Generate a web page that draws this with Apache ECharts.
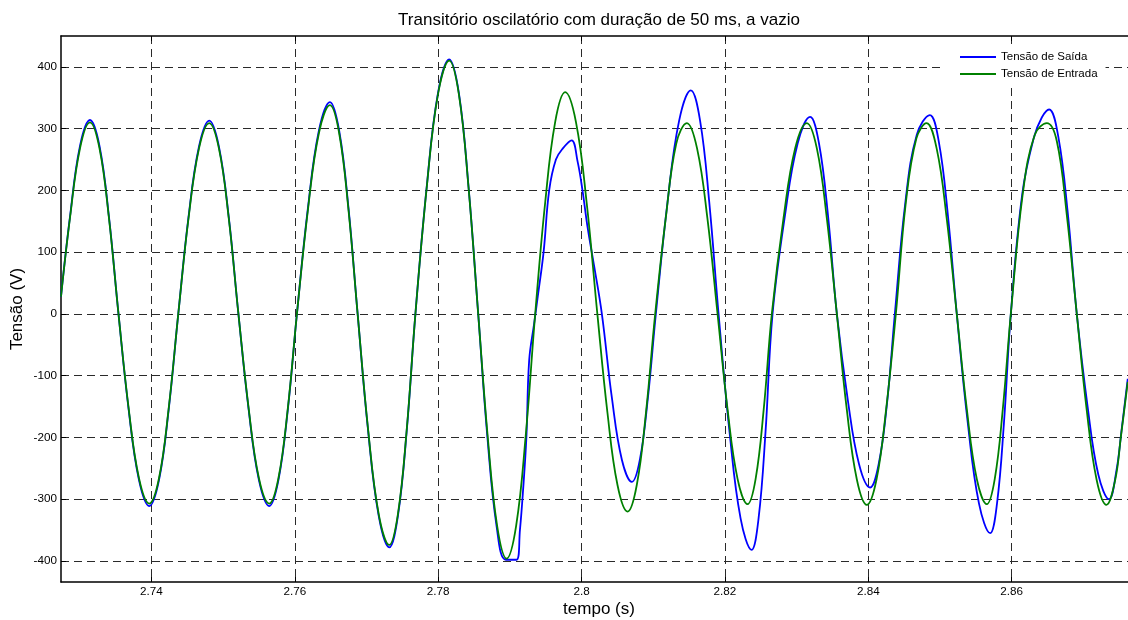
<!DOCTYPE html>
<html>
<head>
<meta charset="utf-8">
<script src="https://cdn.jsdelivr.net/npm/echarts@6/dist/echarts.min.js"></script>
<style>
html,body{margin:0;padding:0;background:#ffffff;}
#chart{width:1128px;height:620px;}
</style>
</head>
<body>
<div id="chart"></div>
<script>
const titleText = 'Transitório oscilatório com duração de 50 ms, a vazio';
const xName = 'tempo (s)';
const yName = 'Tensão (V)';
const seriesNames = ['Tensão de Saída', 'Tensão de Entrada'];
const xTicks = [2.74, 2.76, 2.78, 2.8, 2.82, 2.84, 2.86];
const yTicks = [-400, -300, -200, -100, 0, 100, 200, 300, 400];
const xRange = [2.72738, 2.87748];
const yRange = [-434, 450];

const timeSaida = [
2.72738,2.72863,2.73003,2.73142,2.73275,2.73407,2.73540,2.73683,2.73826,2.73969,
2.74105,2.74239,2.74374,2.74517,2.74663,2.74806,2.74941,2.75078,2.75213,2.75357,
2.75499,2.75643,2.75771,2.75901,2.76029,2.76183,2.76336,2.76490,2.76618,2.76748,
2.76876,2.77022,2.77170,2.77317,2.77438,2.77561,2.77682,2.77840,2.77996,2.78153,
2.78289,2.78423,2.78558,2.78686,2.78816,2.78944,2.79093,2.79140,2.79181,2.79230,
2.79269,2.79339,2.79391,2.79470,2.79548,2.79642,2.79739,2.79861,2.79944,2.80014,
2.80084,2.80176,2.80283,2.80423,2.80562,2.80702,2.80813,2.80925,2.81036,2.81199,
2.81361,2.81524,2.81653,2.81781,2.81911,2.82064,2.82218,2.82371,2.82469,2.82566,
2.82664,2.82838,2.83014,2.83188,2.83312,2.83437,2.83561,2.83716,2.83870,2.84025,
2.84145,2.84264,2.84370,2.84516,2.84676,2.84858,2.84983,2.85109,2.85234,2.85389,
2.85544,2.85699,2.85795,2.85891,2.85988,2.86148,2.86308,2.86420,2.86522,2.86650,
2.86780,2.86908,2.87059,2.87208,2.87358,2.87459,2.87536,2.87619
];
const tensaoSaida = [
28,157,272,314,272,157,0,-156,-269,-311,
-269,-156,0,157,271,313,271,157,0,-156,
-269,-311,-269,-156,0,172,297,343,297,172,
0,-189,-327,-378,-327,-189,0,206,357,412,
357,206,0,-199,-345,-398,-398,-350,-290,-200,
-75,-15,30,100,200,250,268,281,247,199,
140,77,0,-136,-236,-272,-236,-136,0,181,
313,362,313,181,0,-191,-331,-382,-331,-191,
0,160,276,319,276,160,0,-141,-243,-281,
-243,-141,0,180,290,322,279,161,0,-178,
-307,-355,-307,-178,0,195,285,318,331,287,
166,0,-150,-260,-300,-255,-185,-105
];
const timeEntrada = [
2.72738,2.72863,2.73003,2.73142,2.73275,2.73407,2.73540,2.73683,2.73826,2.73969,
2.74105,2.74239,2.74374,2.74517,2.74663,2.74806,2.74941,2.75078,2.75213,2.75357,
2.75499,2.75643,2.75771,2.75901,2.76029,2.76183,2.76336,2.76490,2.76618,2.76748,
2.76876,2.77022,2.77170,2.77317,2.77438,2.77561,2.77682,2.77840,2.77996,2.78153,
2.78289,2.78423,2.78558,2.78690,2.78822,2.78954,2.79087,2.79220,2.79353,2.79492,
2.79632,2.79771,2.79921,2.80071,2.80220,2.80361,2.80501,2.80642,2.80770,2.80898,
2.81027,2.81174,2.81321,2.81469,2.81611,2.81755,2.81897,2.82036,2.82176,2.82315,
2.82428,2.82541,2.82654,2.82817,2.82979,2.83142,2.83282,2.83421,2.83561,2.83700,
2.83840,2.83979,2.84114,2.84248,2.84384,2.84523,2.84670,2.84812,2.84953,2.85093,
2.85234,2.85374,2.85513,2.85653,2.85764,2.85876,2.85988,2.86155,2.86322,2.86490,
2.86629,2.86769,2.86908,2.87046,2.87184,2.87322,2.87445,2.87522,2.87619
];
const tensaoEntrada = [
28,155,268,310,268,155,0,-154,-266,-307,
-266,-154,0,155,268,309,268,155,0,-154,
-266,-307,-266,-154,0,169,293,338,293,169,
0,-187,-324,-374,-324,-187,0,205,355,410,
355,205,0,-198,-343,-396,-343,-198,0,180,
311,359,311,180,0,-160,-277,-320,-277,-160,
0,155,276,309,268,155,0,-154,-267,-308,
-267,-154,0,155,268,309,268,155,0,-155,
-268,-309,-268,-155,0,180,284,309,268,155,
0,-154,-267,-308,-267,-154,0,195,290,309,
280,160,0,-155,-268,-309,-268,-200,-110
];

const FONT = "'Liberation Sans', Arial, sans-serif";
const pairs = (ts, vs) => ts.map((t, i) => [t, vs[i]]);
const gridDash = { type: [8, 5], color: '#2a2a2a', width: 1 };

const chart = echarts.init(document.getElementById('chart'), null, { renderer: 'canvas' });
chart.setOption({
  animation: false,
  backgroundColor: '#ffffff',
  textStyle: { fontFamily: FONT },
  title: {
    text: titleText,
    left: 594,
    top: 7,
    textAlign: 'center',
    textStyle: { fontFamily: FONT, fontSize: 17, fontWeight: 'normal', color: '#000' }
  },
  legend: {
    orient: 'vertical',
    left: 945,
    top: 45,
    padding: [6, 8, 6, 15],
    itemWidth: 36,
    itemHeight: 2,
    itemGap: 5,
    icon: 'rect',
    backgroundColor: '#ffffff',
    borderWidth: 0,
    textStyle: { fontFamily: FONT, fontSize: 11.5, color: '#000' },
    data: seriesNames
  },
  grid: {
    left: 61, right: -9, top: 36, bottom: 38,
    containLabel: false,
    outerBoundsMode: 'none'
  },
  xAxis: [{
    type: 'value',
    position: 'bottom',
    min: xRange[0], max: xRange[1],
    name: xName,
    nameLocation: 'middle',
    nameGap: 19,
    nameMoveOverlap: false,
    nameTextStyle: { fontFamily: FONT, fontSize: 17, color: '#000' },
    axisLine: { show: true, onZero: false, lineStyle: { color: '#000', width: 1.5 } },
    axisTick: { show: true, inside: true, length: 5, customValues: xTicks, lineStyle: { color: '#000' } },
    axisLabel: { show: true, customValues: xTicks, margin: 4, fontFamily: FONT, fontSize: 11.7, color: '#000' },
    splitLine: { show: true, lineStyle: gridDash }
  }, {
    type: 'value',
    position: 'top',
    min: xRange[0], max: xRange[1],
    axisLine: { show: true, onZero: false, lineStyle: { color: '#000', width: 1.5 } },
    axisTick: { show: true, inside: true, length: 5, customValues: xTicks, lineStyle: { color: '#000' } },
    axisLabel: { show: false },
    splitLine: { show: false }
  }],
  yAxis: [{
    type: 'value',
    position: 'left',
    min: yRange[0], max: yRange[1],
    name: yName,
    nameLocation: 'middle',
    nameGap: 35,
    nameMoveOverlap: false,
    nameTextStyle: { fontFamily: FONT, fontSize: 17, color: '#000' },
    axisLine: { show: true, onZero: false, lineStyle: { color: '#000', width: 1.5 } },
    axisTick: { show: true, inside: true, length: 5, customValues: yTicks, lineStyle: { color: '#000' } },
    axisLabel: { show: true, customValues: yTicks, margin: 4, fontFamily: FONT, fontSize: 11.7, color: '#000' },
    splitLine: { show: true, lineStyle: gridDash }
  }],
  series: [{
    name: seriesNames[0],
    type: 'line',
    xAxisIndex: 0,
    data: pairs(timeSaida, tensaoSaida),
    symbol: 'none',
    smooth: 0.4,
    lineStyle: { color: '#0000ff', width: 1.8 },
    itemStyle: { color: '#0000ff' },
    z: 2
  }, {
    name: seriesNames[1],
    type: 'line',
    xAxisIndex: 0,
    data: pairs(timeEntrada, tensaoEntrada),
    symbol: 'none',
    smooth: 0.4,
    lineStyle: { color: '#008000', width: 1.8 },
    itemStyle: { color: '#008000' },
    z: 3
  }]
});
</script>
</body>
</html>
